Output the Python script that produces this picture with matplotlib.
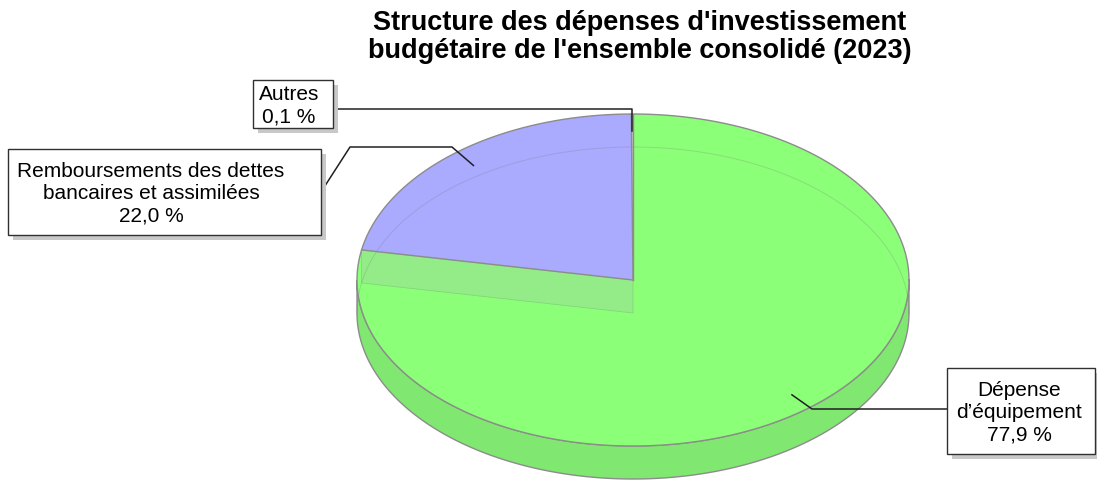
import numpy as np
import matplotlib
matplotlib.use("Agg")
import matplotlib.pyplot as plt
from matplotlib.patches import Polygon, Rectangle

# ---- data ----
title = "Structure des dépenses d'investissement\nbudgétaire de l'ensemble consolidé (2023)"
categories = ["Autres", "Remboursements des dettes\nbancaires et assimilées", "Dépense\nd\u2019équipement"]
values = [0.1, 22.0, 77.9]
value_labels = ["0,1 %", "22,0 %", "77,9 %"]
top_colors = ["#C8C8C8", "#AAAAFF", "#8CFF78"]
side_colors = ["#B4B4B4", "#9999E6", "#80E870"]

plt.rcParams['font.family'] = ['Liberation Sans', 'DejaVu Sans']

W, H = 1097, 481
fig = plt.figure(figsize=(W / 100, H / 100), dpi=100)
ax = fig.add_axes([0, 0, 1, 1])
ax.set_xlim(0, W)
ax.set_ylim(H, 0)
ax.axis('off')

cx, cy, rx, ry, depth = 633, 281, 276, 166, 33
edge = "#8C8C8C"


def pt(t_deg, r=1.0, dz=0.0):
    t = np.radians(t_deg)
    return cx + r * rx * np.cos(t), cy - r * ry * np.sin(t) + dz


def arc(t0, t1, dz=0.0, n=200):
    ts = np.radians(np.linspace(t0, t1, n))
    return np.column_stack([cx + rx * np.cos(ts), cy - ry * np.sin(ts) + dz])


fr = np.array(values) / np.sum(values)
starts = 90 + 360 * np.concatenate([[0], np.cumsum(fr)[:-1]])
ends = starts + 360 * fr
mids = (starts + ends) / 2

# side walls (front part, angles 180..360)
for s, e, sc in zip(starts, ends, side_colors):
    for off in (0, 360, -360):
        a0, a1 = max(s + off, 180), min(e + off, 360)
        if a1 > a0:
            top = arc(a0, a1)
            bot = arc(a1, a0, dz=depth)
            ax.add_patch(Polygon(np.vstack([top, bot]), closed=True, facecolor=sc,
                                 edgecolor=edge, lw=1.0, zorder=1))

# top faces
for s, e, tc in zip(starts, ends, top_colors):
    pts = np.vstack([[cx, cy], arc(s, e)])
    ax.add_patch(Polygon(pts, closed=True, facecolor=tc, edgecolor='none', zorder=2))

# translucent cut face between slices 2 and 3 (seen through the top)
b = ends[1]
p1 = pt(b)
band = np.array([[cx, cy], p1, (p1[0], p1[1] + depth), (cx, cy + depth)])
ax.add_patch(Polygon(band, closed=True, facecolor="#94EA8A", alpha=0.9,
                     edgecolor="#80D478", lw=0.6, zorder=3))
# faint back bottom ellipse seen through
bk = arc(0, 180, dz=depth)
ax.plot(bk[:, 0], bk[:, 1], color="#7A7A7A", lw=0.7, alpha=0.25, zorder=3)
ax.plot([cx, cx], [cy - ry, cy - ry + depth], color="#7A7A7A", lw=0.7, alpha=0.3, zorder=3)

# slice boundaries and outline
for s in starts:
    p = pt(s)
    ax.plot([cx, p[0]], [cy, p[1]], color=edge, lw=1.0, zorder=4)
outl = arc(0, 360, n=400)
ax.plot(outl[:, 0], outl[:, 1], color=edge, lw=1.0, zorder=4)

# title
ax.text(640, 37, title, ha='center', va='center', fontsize=19.5, fontweight='bold',
        linespacing=1.13, zorder=10)

# labels: boxes (x0, y0, x1, y1) and text centre x
boxes = [(253, 81, 333, 129), (8, 150, 321, 236), (947, 369, 1095, 455)]
text_x = [289, 151, 1019]
for i, (cat, vl) in enumerate(zip(categories, value_labels)):
    x0, y0, x1, y1 = boxes[i]
    ax.add_patch(Rectangle((x0 + 5, y0 + 5), x1 - x0, y1 - y0, facecolor="#C8C8C8",
                           edgecolor='none', zorder=8))
    ax.add_patch(Rectangle((x0, y0), x1 - x0, y1 - y0, facecolor='white',
                           edgecolor='#303030', lw=1.0, zorder=9))
    ax.text(text_x[i], (y0 + y1) / 2 + 1, cat + "\n" + vl, ha='center', va='center',
            fontsize=15, linespacing=1.22, zorder=10, multialignment='center')

lc = "#202020"
a0 = pt(mids[0], 0.9)
ax.plot([333, a0[0], a0[0]], [110, 110, a0[1]], color=lc, lw=1.1, zorder=7)
a1 = pt(mids[1], 0.9)
ax.plot([321, 350, 452, a1[0]], [193, 148, 148, a1[1]], color=lc, lw=1.1, zorder=7)
a2 = pt(mids[2], 0.9)
ax.plot([947, 812, a2[0]], [410, 410, a2[1]], color=lc, lw=1.1, zorder=7)

fig.savefig("out.png", dpi=100)
